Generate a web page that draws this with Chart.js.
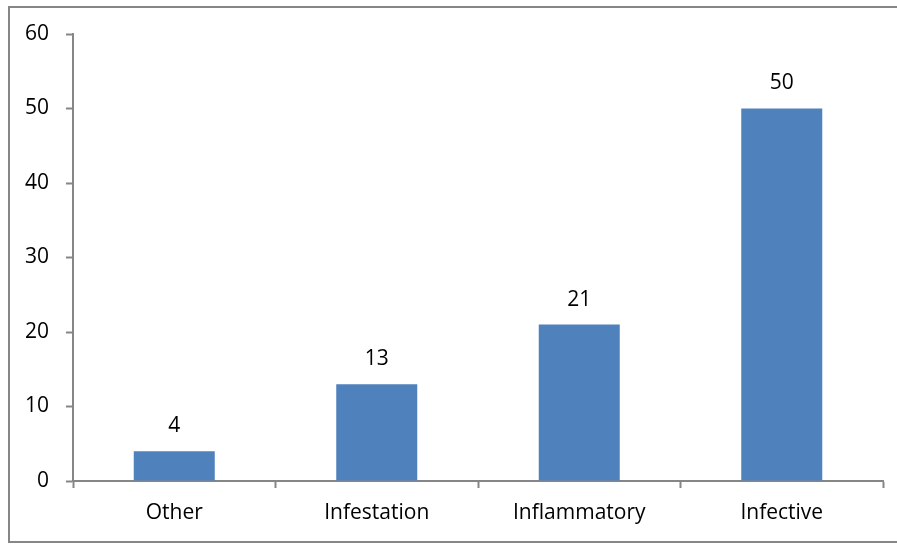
<!DOCTYPE html>
<html>
<head>
<meta charset="utf-8">
<script src="https://cdn.jsdelivr.net/npm/chart.js@4.4.0/dist/chart.umd.min.js"></script>
<style>
  html, body { margin: 0; padding: 0; background: #ffffff; }
  #wrap { position: relative; width: 897px; height: 546px; }
  canvas { display: block; }
</style>
</head>
<body>
<div id="wrap"><canvas id="chart" width="897" height="546"></canvas></div>
<script>
// Categories and counts
const categories = ['Other', 'Infestation', 'Inflammatory', 'Infective'];
const counts = [4, 13, 21, 50];
// Y axis range
const yMin = 0;
const yMax = 60;
const yStep = 10;

const axisGrey = '#868686';
const barBlue = '#4F81BD';
const labelFont = { family: '"Open Sans", "Liberation Sans", sans-serif', size: 21 };

// Frame around the whole chart
const framePlugin = {
  id: 'frame',
  beforeDraw(chart) {
    const ctx = chart.ctx;
    ctx.save();
    ctx.fillStyle = '#ffffff';
    ctx.fillRect(0, 0, chart.width, chart.height);
    ctx.strokeStyle = axisGrey;
    ctx.lineWidth = 2;
    ctx.strokeRect(9, 7, chart.width + 20, 535);
    ctx.restore();
  }
};

// Value written above each bar
const valueLabels = {
  id: 'valueLabels',
  afterDatasetsDraw(chart) {
    const ctx = chart.ctx;
    const meta = chart.getDatasetMeta(0);
    const values = chart.data.datasets[0].data;
    ctx.save();
    ctx.font = labelFont.size + 'px ' + labelFont.family;
    ctx.fillStyle = '#000000';
    ctx.textAlign = 'center';
    ctx.textBaseline = 'middle';
    meta.data.forEach((bar, i) => {
      ctx.fillText(String(values[i]), bar.x, bar.y - 25);
    });
    ctx.restore();
  }
};

new Chart(document.getElementById('chart'), {
  type: 'bar',
  data: {
    labels: categories,
    datasets: [{
      data: counts,
      backgroundColor: barBlue,
      borderWidth: 0,
      barPercentage: 0.4,
      categoryPercentage: 1.0
    }]
  },
  options: {
    responsive: false,
    animation: false,
    events: [],
    layout: { padding: { left: 0, right: 14, top: 34, bottom: 0 } },
    plugins: {
      legend: { display: false },
      tooltip: { enabled: false }
    },
    scales: {
      x: {
        offset: true,
        grid: {
          display: true,
          offset: true,
          drawOnChartArea: false,
          drawTicks: true,
          tickLength: 7,
          tickWidth: 2,
          color: axisGrey
        },
        border: { display: true, color: axisGrey, width: 2 },
        ticks: { color: '#000000', font: labelFont, padding: 12, maxRotation: 0 },
        afterFit(scale) { scale.height = 65; }
      },
      y: {
        min: yMin,
        max: yMax,
        grid: {
          display: true,
          drawOnChartArea: false,
          drawTicks: true,
          tickLength: 7,
          tickWidth: 2,
          color: axisGrey
        },
        border: { display: true, color: axisGrey, width: 2 },
        ticks: { stepSize: yStep, color: '#000000', font: labelFont, padding: 17 },
        afterFit(scale) { scale.width = 73; }
      }
    }
  },
  plugins: [framePlugin, valueLabels]
});
</script>
</body>
</html>
